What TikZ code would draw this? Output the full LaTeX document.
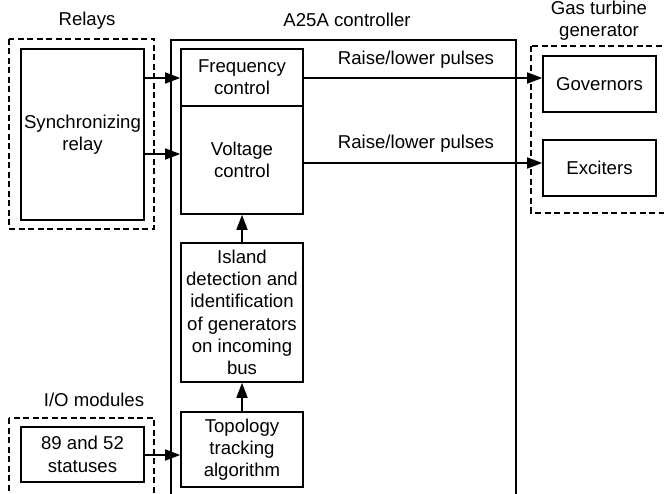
\documentclass[tikz,border=0pt]{standalone}
\usepackage{fontspec}
\setmainfont{Liberation Sans}
\usetikzlibrary{arrows.meta}
\begin{document}
\begin{tikzpicture}[x=1pt,y=-1pt,
  font=\fontsize{18.6}{22.3}\selectfont,
  blk/.style={draw,line width=1.6pt,inner sep=0pt,align=center},
  frame/.style={draw,line width=1.4pt,dash pattern=on 6pt off 3.5pt},
  lbl/.style={inner sep=0pt,align=center},
  arr/.style={line width=1.6pt,-{Triangle[length=15pt,width=11pt]}}]
\useasboundingbox (0,0) rectangle (664,494);
\clip (0,0) rectangle (664,494);
% frames
\draw[frame] (9,39) rectangle (154,229);
\draw[frame] (531,46) rectangle (700,213);
\draw[frame] (9,418) rectangle (154,530);
\draw[line width=1.6pt] (171,40) rectangle (516,530);
% labels
\node[lbl] (lrel) at (87,21) {Relays};
\node[lbl] (lctl) at (347,20) {A25A controller};
\node[lbl] (lgtg) at (599,21) {Gas turbine\\generator};
\node[lbl] (lio) at (94,400) {I/O modules};
% blocks
\node[blk,minimum width=123pt,minimum height=171pt] (sync) at (82.5,134.5) {Synchronizing\\relay};
\node[blk,minimum width=122pt,minimum height=57pt] (freq) at (242,77.5) {Frequency\\control};
\node[blk,minimum width=122pt,minimum height=108pt] (volt) at (242,160) {Voltage\\control};
\node[blk,minimum width=122pt,minimum height=139pt] (isl) at (242,312.5) {Island\\detection and\\identification\\of generators\\on incoming\\bus};
\node[blk,minimum width=122pt,minimum height=75pt] (topo) at (242,449.5) {Topology\\tracking\\algorithm};
\node[blk,minimum width=123pt,minimum height=55pt] (stat) at (82.5,454.5) {89 and 52\\statuses};
\node[blk,minimum width=113pt,minimum height=56pt] (gov) at (599.5,84) {Governors};
\node[blk,minimum width=113pt,minimum height=56pt] (exc) at (599.5,168) {Exciters};
% connectors
\coordinate (s1) at (sync.east |- 0,78);
\coordinate (s2) at (sync.east |- 0,154);
\draw[arr] (s1) -- (freq.west |- s1);
\draw[arr] (s2) -- (volt.west |- s2);
\coordinate (g1) at (freq.east |- 0,78);
\coordinate (e1) at (volt.east |- 0,163);
\draw[arr] (g1) -- (gov.west |- g1);
\draw[arr] (e1) -- (exc.west |- e1);
\node[lbl] (p1) at (416,60) {Raise/lower pulses};
\node[lbl] (p2) at (416,144) {Raise/lower pulses};
\draw[arr] (isl.north) -- (volt.south);
\draw[arr] (topo.north) -- (isl.south);
\coordinate (t1) at (stat.east |- 0,455);
\draw[arr] (t1) -- (topo.west |- t1);
\end{tikzpicture}
\end{document}
